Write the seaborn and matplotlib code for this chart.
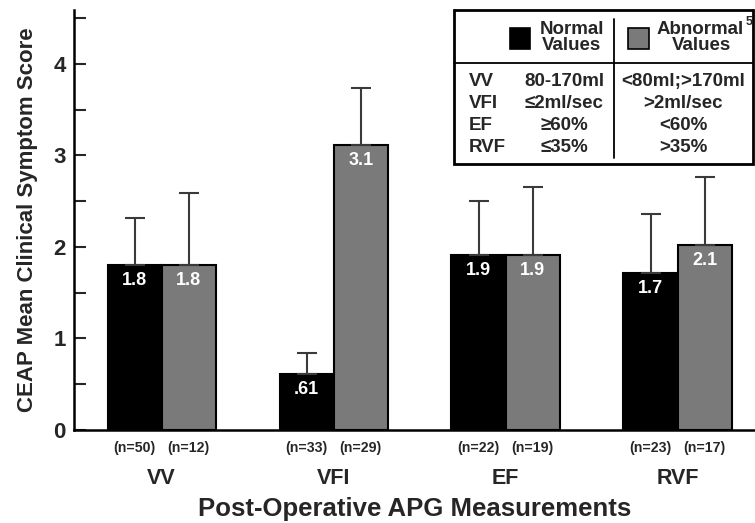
import pandas as pd
import matplotlib
matplotlib.use('Agg')
import matplotlib.pyplot as plt
import seaborn as sns
from matplotlib.patches import Rectangle
from matplotlib.lines import Line2D
from matplotlib.ticker import MultipleLocator

# Chart values
measures = ['VV', 'VFI', 'EF', 'RVF']
groups = ['Normal', 'Abnormal']
normal_mean = [1.80, 0.61, 1.91, 1.72]
abnormal_mean = [1.80, 3.11, 1.91, 2.02]
normal_upper = [2.32, 0.84, 2.50, 2.36]      # top of error whisker
abnormal_upper = [2.59, 3.74, 2.66, 2.77]
normal_labels = ['1.8', '.61', '1.9', '1.7']
abnormal_labels = ['1.8', '3.1', '1.9', '2.1']
normal_n = [50, 33, 22, 23]
abnormal_n = [12, 29, 19, 17]

# Legend table contents
table_rows = ['VV', 'VFI', 'EF', 'RVF']
normal_ranges = ['80-170ml', '≤2ml/sec', '≥60%', '≤35%']
abnormal_ranges = ['<80ml;>170ml', '>2ml/sec', '<60%', '>35%']

colors = {'Normal': 'black', 'Abnormal': '#7a7a7a'}

sns.set_style('white')
plt.rcParams['font.family'] = ['Liberation Sans', 'DejaVu Sans']
plt.rcParams['font.weight'] = 'bold'

df = pd.DataFrame({
    'Measure': measures * 2,
    'Group': ['Normal'] * len(measures) + ['Abnormal'] * len(measures),
    'Score': normal_mean + abnormal_mean,
})

W, H = 755, 523
fig = plt.figure(figsize=(W / 100, H / 100), dpi=100)
ax = fig.add_axes([74 / W, 1 - 430 / H, (W - 74) / W, (430 - 10) / H])

sns.barplot(data=df, x='Measure', y='Score', hue='Group', hue_order=groups,
            palette=colors, width=0.63, gap=0, errorbar=None,
            edgecolor='black', linewidth=1.5, legend=False, ax=ax)

uppers = [normal_upper, abnormal_upper]
labels = [normal_labels, abnormal_labels]
counts = [normal_n, abnormal_n]
for cont, up, lab, ns in zip(ax.containers, uppers, labels, counts):
    for bar, u, t, n in zip(cont, up, lab, ns):
        xc = bar.get_x() + bar.get_width() / 2
        h = bar.get_height()
        ax.errorbar(xc, h, yerr=[[0], [u - h]], fmt='none', ecolor='#3a3a3a',
                    elinewidth=1.5, capsize=7, capthick=1.5, zorder=1)
        ax.text(xc, h - 0.17, t, ha='center', va='center', color='white',
                fontsize=13, fontweight='bold', zorder=4)
        ax.annotate(f'(n={n})', xy=(xc, 0), xycoords=('data', 'axes fraction'),
                    xytext=(0, -13), textcoords='offset points',
                    ha='center', va='center', fontsize=10.2, fontweight='bold',
                    annotation_clip=False)

ax.set_xlim(-0.51, 3.45)
ax.set_ylim(0, 4.59)
ax.yaxis.set_major_locator(MultipleLocator(1))
ax.yaxis.set_minor_locator(MultipleLocator(0.5))
ax.tick_params(axis='y', which='both', direction='in', length=8.6, width=1.5,
               labelsize=16, pad=6, left=True)
ax.tick_params(axis='x', length=0, pad=27, labelsize=15.5)
for lbl in ax.get_yticklabels() + ax.get_xticklabels():
    lbl.set_fontweight('bold')

sns.despine(ax=ax)
for side in ['left', 'bottom']:
    ax.spines[side].set_linewidth(1.8)
    ax.spines[side].set_color('black')

ax.set_ylabel('CEAP Mean Clinical Symptom Score', fontsize=16,
              fontweight='bold', labelpad=11)
ax.set_xlabel('Post-Operative APG Measurements', fontsize=18.5,
              fontweight='bold', labelpad=6)


# Legend table drawn in figure pixel space
def fx(x):
    return x / W


def fy(y):
    return 1 - y / H


fig.add_artist(Rectangle((fx(454), fy(164)), (753 - 454) / W, (164 - 10) / H,
                         transform=fig.transFigure, facecolor='white',
                         edgecolor='black', linewidth=2, zorder=2))
fig.add_artist(Line2D([fx(454), fx(753)], [fy(63), fy(63)],
                      transform=fig.transFigure, color='black', lw=1.3, zorder=3))
fig.add_artist(Line2D([fx(614), fx(614)], [fy(19), fy(158)],
                      transform=fig.transFigure, color='black', lw=1.3, zorder=3))
fig.add_artist(Rectangle((fx(510), fy(49)), 20 / W, 21 / H,
                         transform=fig.transFigure, facecolor=colors['Normal'],
                         edgecolor='black', linewidth=1.2, zorder=3))
fig.add_artist(Rectangle((fx(628), fy(49)), 21 / W, 21 / H,
                         transform=fig.transFigure, facecolor=colors['Abnormal'],
                         edgecolor='black', linewidth=1.2, zorder=3))

tkw = dict(fontsize=13.5, fontweight='bold', va='center', zorder=4)
fig.text(fx(572), fy(29), 'Normal', ha='center', **tkw)
fig.text(fx(572), fy(46), 'Values', ha='center', **tkw)
fig.text(fx(700), fy(29), 'Abnormal', ha='center', **tkw)
fig.text(fx(701), fy(46), 'Values', ha='center', **tkw)
fig.text(fx(746), fy(22), '5', ha='left', fontsize=9, fontweight='bold',
         va='center', zorder=4)

row_y = [82, 103, 125, 147]
for ry, name, nr, ar in zip(row_y, table_rows, normal_ranges, abnormal_ranges):
    fig.text(fx(469), fy(ry), name, ha='left', **tkw)
    fig.text(fx(564), fy(ry), nr, ha='center', **tkw)
    fig.text(fx(683), fy(ry), ar, ha='center', **tkw)

fig.savefig('out.png', dpi=100)
